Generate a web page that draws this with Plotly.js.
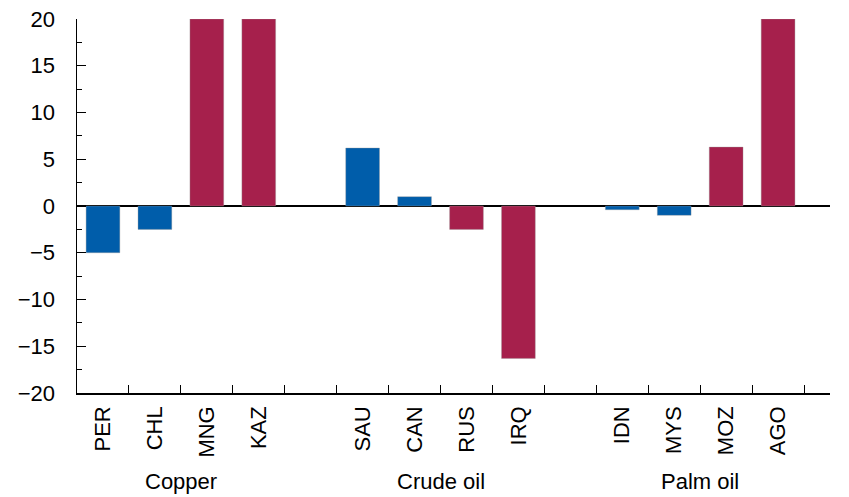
<!DOCTYPE html>
<html><head><meta charset="utf-8">
<script src="https://cdn.plot.ly/plotly-3.0.1.min.js"></script>
<style>html,body{margin:0;padding:0;background:#fff}#chart{width:849px;height:497px}</style>
</head><body><div id="chart"></div>
<script>
// Data
const countries = ["PER","CHL","MNG","KAZ","SAU","CAN","RUS","IRQ","IDN","MYS","MOZ","AGO"];
const values = [-5.0, -2.5, 20, 20, 6.2, 1.0, -2.5, -16.3, -0.4, -1.0, 6.3, 20];
const groupNames = ["Copper","Crude oil","Palm oil"];
const groupOf = [0,0,0,0,1,1,1,1,2,2,2,2];
const isBlue = [true,true,false,false,true,true,false,false,true,true,false,false];
const yTickVals = [-20,-15,-10,-5,0,5,10,15,20];
const yTickText = ["\u221220","\u221215","\u221210","\u22125","0","5","10","15","20"];

// positions: groups separated by one empty slot
const pos = countries.map((c,i)=> i + groupOf[i]);
const blue = "#005DAA", red = "#A6204C";
const colors = isBlue.map(b=> b ? blue : red);
const boundaries = [];
for (let k=0; k<14; k++) boundaries.push(k+0.5);
const groupCenters = groupNames.map((g,gi)=>{
  const p = pos.filter((_,i)=>groupOf[i]===gi);
  return (p[0]+p[p.length-1])/2;
});

const font = {family:"Liberation Sans, Arial, sans-serif", size:22, color:"#000"};
const data = [{
  type:"bar", x:pos, y:values, width:0.65,
  marker:{color:colors, line:{color:"rgba(150,150,150,0.6)", width:0.6}},
  hoverinfo:"skip", cliponaxis:true
}];
const layout = {
  width:849, height:497,
  margin:{l:77, r:19, t:19, b:104},
  paper_bgcolor:"#fff", plot_bgcolor:"#fff",
  showlegend:false,
  font:font,
  bargap:0,
  xaxis:{
    range:[-0.5,14], showgrid:false, zeroline:false,
    showline:true, linecolor:"#000", linewidth:1.5, mirror:false,
    tickmode:"array", tickvals:pos, ticktext:countries, tickangle:-90,
    ticks:"", tickfont:font, ticklabelstandoff:3,
    minor:{tickmode:"array", tickvals:boundaries, ticks:"inside", ticklen:8, tickcolor:"#000", tickwidth:1, showgrid:false}
  },
  yaxis:{
    range:[-20,20], showgrid:false, zeroline:true, zerolinecolor:"#000", zerolinewidth:1.5,
    showline:true, linecolor:"#000", linewidth:1.5,
    tickmode:"array", tickvals:yTickVals, ticktext:yTickText,
    ticks:"inside", ticklen:9, tickwidth:1, tickcolor:"#000", tickfont:font,
    ticklabelstandoff:16,
    minor:{tickmode:"array", tickvals:[-17.5,-12.5,-7.5,-2.5,2.5,7.5,12.5,17.5], ticks:"inside", ticklen:5, tickcolor:"#000", tickwidth:1, showgrid:false}
  },
  annotations: groupNames.map((g,i)=>({
    text:g, x:groupCenters[i], xref:"x", y:0, yref:"paper",
    yshift:-88, showarrow:false, font:font, xanchor:"center", yanchor:"middle"
  }))
};
Plotly.newPlot("chart", data, layout, {staticPlot:true, displayModeBar:false});
</script></body></html>
